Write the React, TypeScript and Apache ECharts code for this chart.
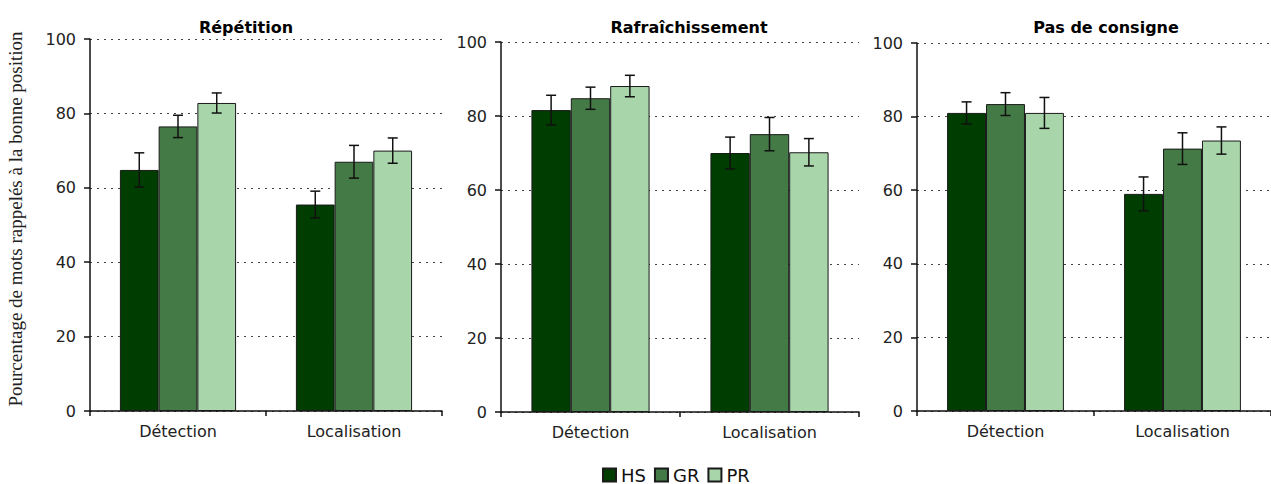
import React, { useEffect, useRef } from "react";
import * as echarts from "echarts";

const categories = ["Détection", "Localisation"];
const panelTitles = ["Répétition", "Rafraîchissement", "Pas de consigne"];
const seriesNames = ["HS", "GR", "PR"];
const seriesColors = ["#003d00", "#437a45", "#a8d5aa"];

// means per panel, per group (Détection, Localisation)
const repetitionHS = [64.8, 55.5];
const repetitionGR = [76.5, 67.0];
const repetitionPR = [82.8, 70.0];
const rafraichHS = [81.6, 70.0];
const rafraichGR = [84.8, 75.1];
const rafraichPR = [88.1, 70.2];
const consigneHS = [81.0, 59.0];
const consigneGR = [83.4, 71.3];
const consignePR = [81.0, 73.5];

// error half-widths
const repetitionHSErr = [4.6, 3.6];
const repetitionGRErr = [3.0, 4.4];
const repetitionPRErr = [2.7, 3.4];
const rafraichHSErr = [4.0, 4.3];
const rafraichGRErr = [3.0, 4.5];
const rafraichPRErr = [2.9, 3.7];
const consigneHSErr = [3.0, 4.6];
const consigneGRErr = [3.1, 4.3];
const consignePRErr = [4.2, 3.7];

const panelMeans = [
  [repetitionHS, repetitionGR, repetitionPR],
  [rafraichHS, rafraichGR, rafraichPR],
  [consigneHS, consigneGR, consignePR],
];
const panelErrs = [
  [repetitionHSErr, repetitionGRErr, repetitionPRErr],
  [rafraichHSErr, rafraichGRErr, rafraichPRErr],
  [consigneHSErr, consigneGRErr, consignePRErr],
];

const BAR_FRAC = 0.22;
const FONT = "'DejaVu Sans', Verdana, sans-serif";

export default function App() {
  const ref = useRef<HTMLDivElement>(null);
  useEffect(() => {
    if (!ref.current) return;
    const chart = echarts.init(ref.current, null, { renderer: "svg" });
    const grids = [
      { left: 90, width: 352, top: 39, height: 372 },
      { left: 501, width: 358, top: 42, height: 370 },
      { left: 917, width: 354, top: 43, height: 368 },
    ];
    const titleX = [241, 684, 1101];
    const xAxes: any[] = [];
    const yAxes: any[] = [];
    const series: any[] = [];
    grids.forEach((g, p) => {
      xAxes.push({
        type: "category",
        gridIndex: p,
        data: categories,
        axisLine: { lineStyle: { color: "#111", width: 1.5 } },
        axisTick: { show: true, length: 5, lineStyle: { color: "#111", width: 1.5 } },
        axisLabel: { color: "#222", fontSize: 16, fontFamily: FONT, margin: 12 },
      });
      yAxes.push({
        type: "value",
        gridIndex: p,
        min: 0,
        max: 100,
        interval: 20,
        axisLine: { show: true, lineStyle: { color: "#111", width: 1.5 } },
        axisTick: { show: true, length: 6, lineStyle: { color: "#111", width: 1.5 } },
        axisLabel: { color: "#222", fontSize: 16, fontFamily: FONT, margin: 14 },
        splitLine: { show: true, lineStyle: { color: "#444", width: 1, type: [2, 5] } },
      });
      seriesNames.forEach((name, k) => {
        series.push({
          type: "bar",
          name,
          xAxisIndex: p,
          yAxisIndex: p,
          data: panelMeans[p][k],
          barWidth: "22%",
          barGap: "0%",
          itemStyle: { color: seriesColors[k], borderColor: "#1a1a1a", borderWidth: 1 },
        });
      });
      seriesNames.forEach((name, k) => {
        const means = panelMeans[p][k];
        const errs = panelErrs[p][k];
        series.push({
          type: "custom",
          xAxisIndex: p,
          yAxisIndex: p,
          z: 10,
          encode: { x: 0, y: [1, 2] },
          data: means.map((m, i) => [i, m - errs[i], m + errs[i]]),
          renderItem: (params: any, api: any) => {
            const ci = api.value(0);
            const lo = api.coord([ci, api.value(1)]);
            const hi = api.coord([ci, api.value(2)]);
            const bw = api.size([1, 0])[0] * BAR_FRAC;
            const x = lo[0] + (k - 1) * bw;
            const cap = 5;
            const st = { stroke: "#111", lineWidth: 1.5 };
            return {
              type: "group",
              children: [
                { type: "line", shape: { x1: x, y1: lo[1], x2: x, y2: hi[1] }, style: st },
                { type: "line", shape: { x1: x - cap, y1: lo[1], x2: x + cap, y2: lo[1] }, style: st },
                { type: "line", shape: { x1: x - cap, y1: hi[1], x2: x + cap, y2: hi[1] }, style: st },
              ],
            };
          },
        });
      });
    });
    chart.setOption({
      animation: false,
      backgroundColor: "#fff",
      title: panelTitles.map((t, p) => ({
        text: t,
        left: titleX[p],
        top: 14,
        textAlign: "center",
        textStyle: { fontSize: 16, fontWeight: "bold", fontFamily: FONT, color: "#000" },
      })),
      legend: {
        data: seriesNames,
        left: 602,
        top: 466,
        padding: 0,
        itemWidth: 13,
        itemHeight: 13,
        itemGap: 8,
        icon: "rect",
        textStyle: { fontSize: 18, fontFamily: FONT, color: "#111" },
      },
      grid: grids,
      xAxis: xAxes,
      yAxis: yAxes,
      series,
      graphic: [
        {
          type: "text",
          x: 15,
          y: 219,
          rotation: Math.PI / 2,
          style: {
            text: "Pourcentage de mots rappelés à la bonne position",
            fontSize: 19,
            fontFamily: "'Liberation Serif', 'Times New Roman', serif",
            fill: "#222",
            textAlign: "center",
            textVerticalAlign: "middle",
          },
        },
      ],
    });
    return () => chart.dispose();
  }, []);
  return <div ref={ref} style={{ width: 1271, height: 484, position: "absolute", left: 0, top: 0 }} />;
}
